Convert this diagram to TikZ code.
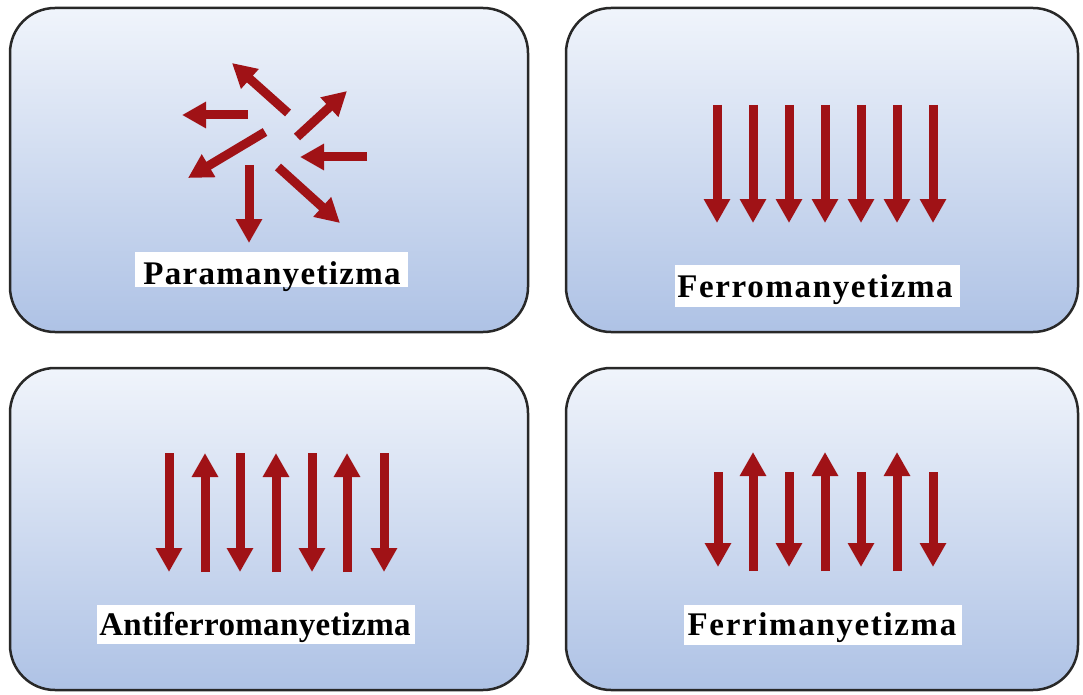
\documentclass[tikz,border=0pt]{standalone}
\usepackage{fontspec}
\setmainfont{Liberation Serif}
\usetikzlibrary{arrows.meta}
\definecolor{arrowred}{RGB}{160,18,22}
\definecolor{boxtop}{RGB}{240,244,251}
\definecolor{boxbot}{RGB}{174,194,229}
\definecolor{boxedge}{RGB}{40,40,40}
\begin{document}
\begin{tikzpicture}[x=1pt,y=-1pt,
  panel/.style={draw=boxedge, line width=2.5pt, rounded corners=45pt, top color=boxtop, bottom color=boxbot, inner sep=0pt},
  spin/.style={draw=arrowred, line width=9pt, -{Triangle[width=25pt,length=24pt]}},
  labelbg/.style={fill=white, draw=none, inner sep=0pt},
  labeltext/.style={font=\fontsize{33}{36}\selectfont\bfseries, anchor=base, inner sep=0pt}]
\useasboundingbox[fill=white] (0,0) rectangle (1083,695);
% panels
\node[panel, minimum width=518pt, minimum height=324pt] (p1) at (269,170) {};
\node[panel, minimum width=512pt, minimum height=324pt] (p2) at (822,170) {};
\node[panel, minimum width=518pt, minimum height=322pt] (p3) at (269,529) {};
\node[panel, minimum width=512pt, minimum height=322pt] (p4) at (822,529) {};
% paramagnetism
\draw[spin] (288,113) -- (232,63);
\draw[spin] (248,115) -- (182,115);
\draw[spin] (297,137) -- (347,91);
\draw[spin] (265,132) -- (188,178);
\draw[spin] (367,157) -- (300,157);
\draw[spin] (249,165) -- (249,243);
\draw[spin] (278,167) -- (340,223);
% ferromagnetism
\foreach \x in {717,753,789,825,861,897,933}
  \draw[spin] (\x,105) -- (\x,223);
% antiferromagnetism
\foreach \x in {169,240,312,384}
  \draw[spin] (\x,453) -- (\x,572);
\foreach \x in {205,276,347}
  \draw[spin] (\x,572) -- (\x,453);
% ferrimagnetism
\foreach \x in {718,789,861,933}
  \draw[spin] (\x,472) -- (\x,567);
\foreach \x in {753,825,897}
  \draw[spin] (\x,571) -- (\x,452);
% labels
\node[labelbg, minimum width=273pt, minimum height=35pt] (l1bg) at (271.5,269.5) {};
\node[labeltext] (l1) at (272,284) {\addfontfeature{LetterSpace=4}Paramanyetizma};
\node[labelbg, minimum width=285pt, minimum height=42pt] (l2bg) at (817.5,286) {};
\node[labeltext] (l2) at (815,297) {\addfontfeature{LetterSpace=5}Ferromanyetizma};
\node[labelbg, minimum width=318pt, minimum height=39pt] (l3bg) at (256,624.5) {};
\node[labeltext] (l3) at (255,635) {\addfontfeature{LetterSpace=1}Antiferromanyetizma};
\node[labelbg, minimum width=278pt, minimum height=40pt] (l4bg) at (823,625) {};
\node[labeltext] (l4) at (822,635) {\addfontfeature{LetterSpace=5}Ferrimanyetizma};
\end{tikzpicture}
\end{document}
